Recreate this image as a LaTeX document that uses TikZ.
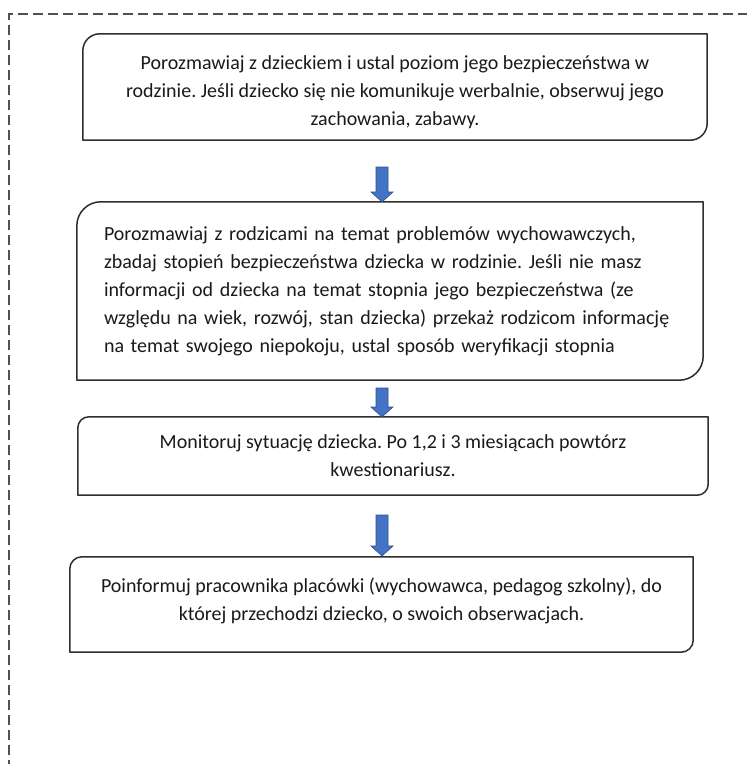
\documentclass[tikz,border=0pt]{standalone}
\usepackage{fontspec}
\setmainfont{Carlito}
\definecolor{arrowblue}{HTML}{4472C4}
\definecolor{arrowedge}{HTML}{2F528F}
\definecolor{boxline}{HTML}{2E2E2E}
\definecolor{frameline}{HTML}{505050}
\definecolor{bodytext}{HTML}{1A1A1A}
\newcommand\diagborder[2]{%
  \draw[boxline, line width=1.5pt, line join=round]
    (#1.south west) -- ([yshift=-#2pt]#1.north west)
    arc[start angle=180, end angle=90, radius=#2pt]
    -- (#1.north east) -- ([yshift=#2pt]#1.south east)
    arc[start angle=0, end angle=-90, radius=#2pt] -- cycle;}
\newcommand\blockarrow[2]{%
  \filldraw[arrowblue, draw=arrowedge, line width=0.6pt]
    ([xshift=-6pt]#1) -- ([xshift=6pt]#1) -- ([xshift=6pt,yshift=10pt]#2)
    -- ([xshift=11pt,yshift=10pt]#2) -- (#2) -- ([xshift=-11pt,yshift=10pt]#2)
    -- ([xshift=-6pt,yshift=10pt]#2) -- cycle;}
\begin{document}
\frenchspacing
\begin{tikzpicture}[x=1pt, y=-1pt,
  boxtxt/.style={font=\fontsize{20}{28}\selectfont\frenchspacing, text=bodytext, inner sep=0pt}]
\useasboundingbox (0,0) rectangle (747,764);
\clip (0,0) rectangle (747,764);
\fill[white] (0,0) rectangle (747,764);
% dashed outer frame
\coordinate (fbl) at (9,770);
\coordinate (ftl) at (9,14);
\coordinate (ftr) at (760,14);
\draw[frameline, line width=1.3pt, dash pattern=on 10pt off 5pt] (fbl) -- (ftl) -- (ftr);
% boxes
\node[boxtxt, align=center, minimum width=624pt, minimum height=106pt] (b1) at (395,87)
  {\strut\\[-24pt]Porozmawiaj z dzieckiem i ustal poziom jego bezpieczeństwa w\\
   rodzinie. Jeśli dziecko się nie komunikuje werbalnie, obserwuj jego\\
   zachowania, zabawy.};
\node[boxtxt, align=left, inner xsep=27pt, text width=572pt, minimum height=178pt] (b2) at (390,291)
  {Porozmawiaj z rodzicami na temat problemów wychowawczych,\\
   zbadaj stopień bezpieczeństwa dziecka w rodzinie. Jeśli nie masz\\
   informacji od dziecka na temat stopnia jego bezpieczeństwa (ze\\
   względu na wiek, rozwój, stan dziecka) przekaż rodzicom informację\\
   na temat swojego niepokoju, ustal sposób weryfikacji stopnia};
\node[boxtxt, align=center, minimum width=630pt, minimum height=78pt] (b3) at (393,456)
  {Monitoruj sytuację dziecka. Po 1,2 i 3 miesiącach powtórz\\
   kwestionariusz.};
\node[boxtxt, align=center, minimum width=623pt, minimum height=95pt] (b4) at (381.5,604.5)
  {Poinformuj pracownika placówki (wychowawca, pedagog szkolny), do\\
   której przechodzi dziecko, o swoich obserwacjach.\\[-17pt]\mbox{}};
\diagborder{b1}{17}
\diagborder{b2}{24}
\diagborder{b3}{11}
\diagborder{b4}{12}
% arrows
\coordinate (a1s) at (382,167);
\coordinate (a1e) at (382,202);
\coordinate (a2s) at (382,388);
\coordinate (a2e) at (382,417);
\coordinate (a3s) at (382,515);
\coordinate (a3e) at (382,556);
\blockarrow{a1s}{a1e}
\blockarrow{a2s}{a2e}
\blockarrow{a3s}{a3e}
\end{tikzpicture}
\end{document}
